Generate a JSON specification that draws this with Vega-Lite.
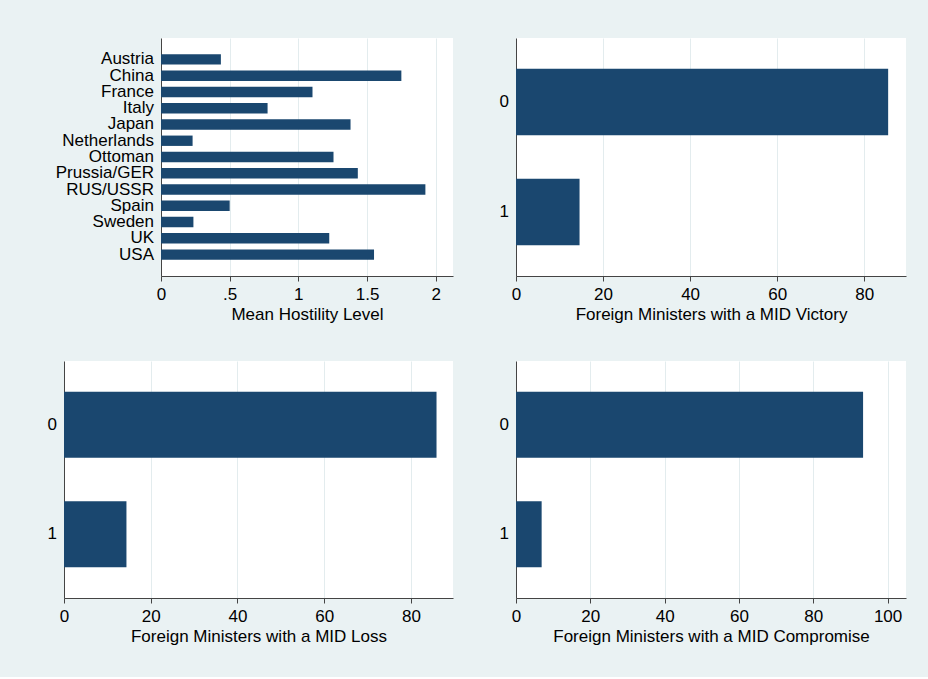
{
  "$schema": "https://vega.github.io/schema/vega-lite/v6.json",
  "background": "#eaf2f3",
  "padding": {"left": 0, "top": 38, "right": 22, "bottom": 33},
  "datasets": {
    "hostility": [
      {"country": "Austria", "mean": 0.436},
      {"country": "China", "mean": 1.75},
      {"country": "France", "mean": 1.103},
      {"country": "Italy", "mean": 0.776},
      {"country": "Japan", "mean": 1.38},
      {"country": "Netherlands", "mean": 0.23},
      {"country": "Ottoman", "mean": 1.256},
      {"country": "Prussia/GER", "mean": 1.433},
      {"country": "RUS/USSR", "mean": 1.925},
      {"country": "Spain", "mean": 0.5},
      {"country": "Sweden", "mean": 0.236},
      {"country": "UK", "mean": 1.225},
      {"country": "USA", "mean": 1.551}
    ],
    "victory": [{"value": "0", "pct": 85.5}, {"value": "1", "pct": 14.6}],
    "loss": [{"value": "0", "pct": 85.9}, {"value": "1", "pct": 14.4}],
    "compromise": [{"value": "0", "pct": 93.4}, {"value": "1", "pct": 6.9}],
    "spacer": [{"k": 1}]
  },
  "spacing": 39,
  "vconcat": [
    {
      "spacing": 10,
      "hconcat": [
        {
          "width": 1,
          "height": 1,
          "data": {"name": "spacer"},
          "mark": {"type": "point", "opacity": 0, "size": 0, "strokeWidth": 0},
          "encoding": {},
          "view": {"fill": null, "stroke": null}
        },
        {
          "width": 292,
          "height": 238,
          "data": {"name": "hostility"},
          "mark": {"type": "bar", "color": "#1a476f"},
          "encoding": {
            "y": {
              "field": "country", "type": "nominal", "sort": "ascending",
              "scale": {"paddingInner": 0.363, "paddingOuter": 1.255},
              "axis": {"title": null, "minExtent": 150, "maxExtent": 150}
            },
            "x": {
              "field": "mean", "type": "quantitative",
              "scale": {"domain": [0, 2.126], "nice": false},
              "axis": {"title": "Mean Hostility Level", "values": [0, 0.5, 1, 1.5, 2],
                       "labelExpr": "datum.value == 0.5 ? '.5' : format(datum.value, '~g')"}
            }
          }
        },
        {
          "width": 390,
          "height": 238,
          "data": {"name": "victory"},
          "mark": {"type": "bar", "color": "#1a476f"},
          "encoding": {
            "y": {
              "field": "value", "type": "nominal", "sort": "ascending",
              "scale": {"paddingInner": 0.397, "paddingOuter": 0.28},
              "axis": {"title": null, "minExtent": 52.7, "maxExtent": 52.7}
            },
            "x": {
              "field": "pct", "type": "quantitative",
              "scale": {"domain": [0, 89.6], "nice": false},
              "axis": {"title": "Foreign Ministers with a MID Victory", "values": [0, 20, 40, 60, 80]}
            }
          }
        }
      ]
    },
    {
      "spacing": 10,
      "hconcat": [
        {
          "width": 1,
          "height": 1,
          "data": {"name": "spacer"},
          "mark": {"type": "point", "opacity": 0, "size": 0, "strokeWidth": 0},
          "encoding": {},
          "view": {"fill": null, "stroke": null}
        },
        {
          "width": 389,
          "height": 237,
          "data": {"name": "loss"},
          "mark": {"type": "bar", "color": "#1a476f"},
          "encoding": {
            "y": {
              "field": "value", "type": "nominal", "sort": "ascending",
              "scale": {"paddingInner": 0.397, "paddingOuter": 0.28},
              "axis": {"title": null, "minExtent": 53, "maxExtent": 53}
            },
            "x": {
              "field": "pct", "type": "quantitative",
              "scale": {"domain": [0, 89.7], "nice": false},
              "axis": {"title": "Foreign Ministers with a MID Loss", "values": [0, 20, 40, 60, 80]}
            }
          }
        },
        {
          "width": 390,
          "height": 237,
          "data": {"name": "compromise"},
          "mark": {"type": "bar", "color": "#1a476f"},
          "encoding": {
            "y": {
              "field": "value", "type": "nominal", "sort": "ascending",
              "scale": {"paddingInner": 0.397, "paddingOuter": 0.28},
              "axis": {"title": null, "minExtent": 52.7, "maxExtent": 52.7}
            },
            "x": {
              "field": "pct", "type": "quantitative",
              "scale": {"domain": [0, 104.95], "nice": false},
              "axis": {"title": "Foreign Ministers with a MID Compromise", "values": [0, 20, 40, 60, 80, 100]}
            }
          }
        }
      ]
    }
  ],
  "config": {
    "font": "Liberation Sans",
    "view": {"fill": "white", "stroke": null},
    "axis": {
      "labelFontSize": 17,
      "titleFontSize": 17,
      "titleFontWeight": "normal",
      "labelColor": "#000000",
      "titleColor": "#000000",
      "domainColor": "#444444",
      "tickColor": "#444444",
      "domainWidth": 1,
      "labelFont": "Liberation Sans",
      "titleFont": "Liberation Sans"
    },
    "axisX": {
      "grid": true,
      "gridColor": "#e3ecee",
      "gridWidth": 1,
      "tickSize": 5,
      "labelPadding": 5.5,
      "titlePadding": 2,
      "minExtent": 28,
      "maxExtent": 28,
      "labelFlush": false,
      "labelOverlap": false
    },
    "axisY": {
      "grid": false,
      "ticks": false,
      "labelPadding": 7.5,
      "labelOverlap": false
    }
  }
}
